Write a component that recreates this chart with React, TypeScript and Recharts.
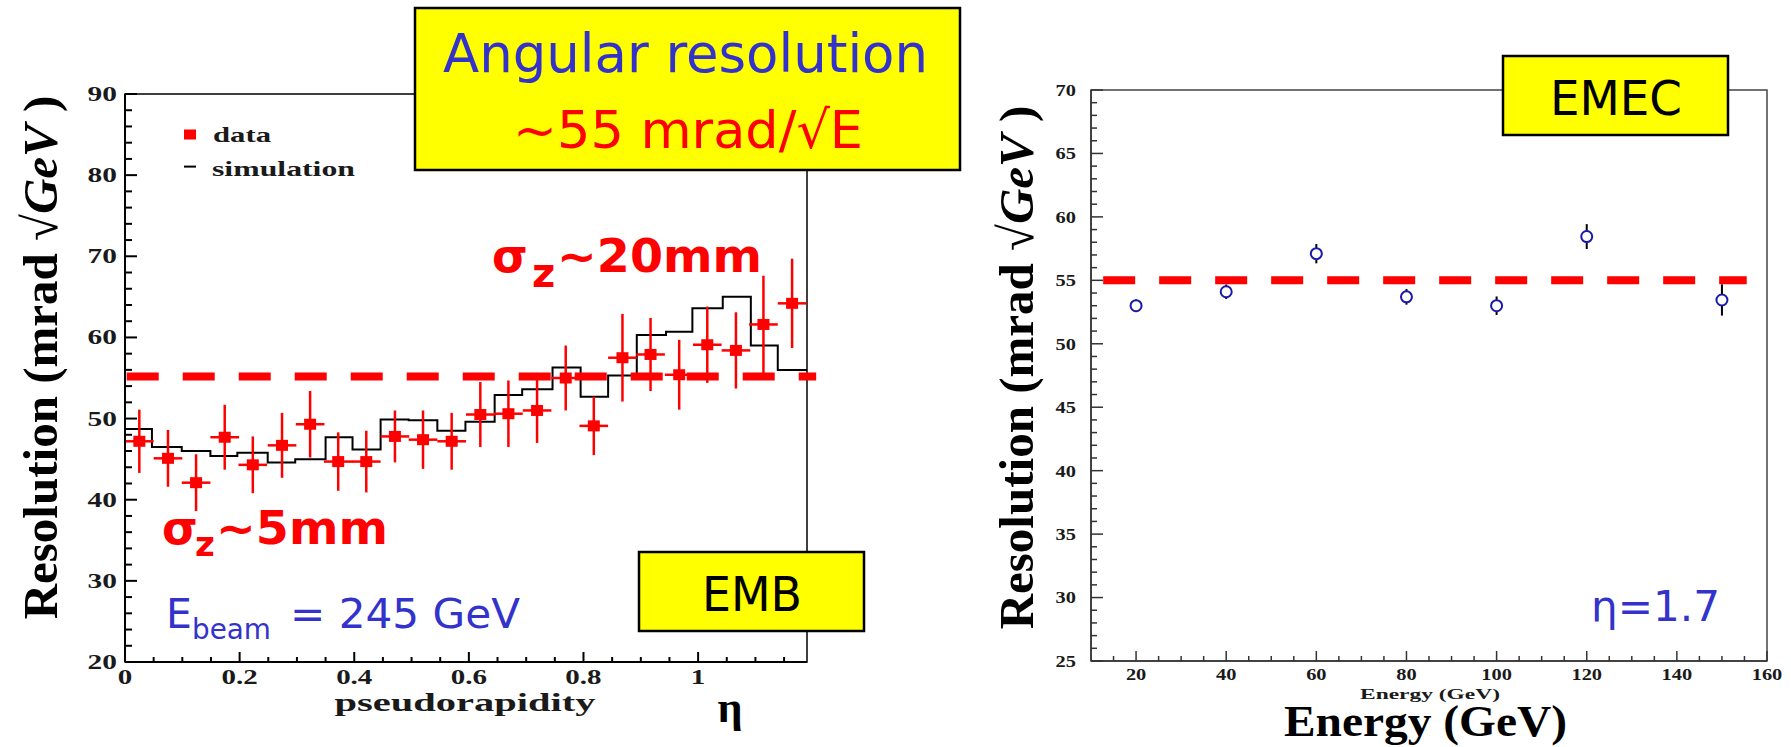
import React from 'react';
import {
  ComposedChart,
  Line,
  Scatter,
  XAxis,
  YAxis,
  ErrorBar,
  ReferenceLine,
  ReferenceArea,
} from 'recharts';

// EMB: angular resolution vs pseudorapidity (test beam data + simulation)
const embEta = [0.025, 0.075, 0.124, 0.174, 0.223, 0.274, 0.323, 0.372, 0.421, 0.471, 0.52, 0.57,
  0.62, 0.669, 0.719, 0.769, 0.818, 0.868, 0.917, 0.967, 1.016, 1.066, 1.114, 1.164];
const embRes = [47.2, 45.1, 42.1, 47.7, 44.3, 46.7, 49.3, 44.7, 44.7, 47.8, 47.4, 47.2,
  50.5, 50.6, 51.0, 55.0, 49.1, 57.5, 57.9, 55.4, 59.1, 58.4, 61.6, 64.2];
const embErr = [3.9, 3.5, 3.5, 4.0, 3.5, 4.0, 4.1, 3.6, 3.8, 3.2, 3.6, 3.5,
  4.0, 4.1, 4.0, 4.0, 3.6, 5.4, 4.5, 4.3, 4.7, 4.7, 6.0, 5.5];
const embBinHalf = 0.025;

// simulation histogram: bin low edges (+ last upper edge) and levels
const simEdges = [0, 0.047, 0.099, 0.149, 0.196, 0.249, 0.297, 0.35, 0.397, 0.446, 0.495, 0.545,
  0.594, 0.645, 0.693, 0.746, 0.795, 0.843, 0.893, 0.944, 0.99, 1.043, 1.092, 1.139, 1.19];
const simRes = [48.7, 46.5, 46.0, 45.4, 45.8, 44.6, 45.0, 47.7, 46.2, 49.9, 49.8, 48.5,
  49.6, 52.9, 53.6, 56.3, 52.7, 55.3, 60.3, 60.7, 63.6, 65.0, 59.0, 56.0];

const embXMajor = [0, 0.2, 0.4, 0.6, 0.8, 1];
const embYMajor = [20, 30, 40, 50, 60, 70, 80, 90];
const embLevel = 55.2;

// EMEC: resolution vs beam energy at eta = 1.7
const emecEnergy = [20, 40, 60, 80, 100, 120, 150];
const emecRes = [53.0, 54.1, 57.1, 53.7, 53.0, 58.45, 53.45];
const emecErr = [0.5, 0.57, 0.76, 0.62, 0.73, 0.98, 1.23];

const emecXMajor = [20, 40, 60, 80, 100, 120, 140, 160];
const emecYMajor = [25, 30, 35, 40, 45, 50, 55, 60, 65, 70];
const emecLevel = 55;

const range = (a: number, b: number, s: number) =>
  Array.from({ length: Math.round((b - a) / s) + 1 }, (_, i) => +(a + i * s).toFixed(4));

const SERIF = "'Liberation Serif', 'DejaVu Serif', serif";
const SANS = "'DejaVu Sans', Verdana, sans-serif";
const RED = '#ff0000';
const BLUE = '#3333cc';

type TickCfg = {
  side: 'left' | 'bottom';
  majors: number[];
  margin: number;
  majorLen: number;
  minorLen: number;
  fontSize: number;
  sx: number;
  stroke: string;
  sw: number;
  fmt?: (v: number) => string;
};

const makeTick = (c: TickCfg) => (props: any) => {
  const { x, y, payload } = props;
  const v = payload.value as number;
  const major = c.majors.some((m) => Math.abs(m - v) < 1e-6);
  const len = major ? c.majorLen : c.minorLen;
  const label = c.fmt ? c.fmt(v) : String(v);
  if (c.side === 'left') {
    const ax = x + c.margin;
    return (
      <g>
        <line x1={ax} x2={ax + len} y1={y} y2={y} stroke={c.stroke} strokeWidth={c.sw} />
        {major && (
          <text
            transform={`translate(${x},${y}) scale(${c.sx},1)`}
            textAnchor="end"
            dominantBaseline="central"
            fontFamily={SERIF}
            fontWeight="bold"
            fontSize={c.fontSize}
            fill="#1a1a1a"
          >
            {label}
          </text>
        )}
      </g>
    );
  }
  const ay = y - c.margin;
  return (
    <g>
      <line x1={x} x2={x} y1={ay} y2={ay - len} stroke={c.stroke} strokeWidth={c.sw} />
      {major && (
        <text
          transform={`translate(${x},${y + c.fontSize * 0.66}) scale(${c.sx},1)`}
          textAnchor="middle"
          fontFamily={SERIF}
          fontWeight="bold"
          fontSize={c.fontSize}
          fill="#1a1a1a"
        >
          {label}
        </text>
      )}
    </g>
  );
};

function EmbChart() {
  const points = embEta.map((x, i) => ({ x, y: embRes[i], ey: embErr[i], ex: embBinHalf }));
  const hist = simEdges.map((x, i) => ({ x, y: simRes[Math.min(i, simRes.length - 1)] }));
  const xTicks = range(0, 1.15, 0.05);
  const yTicks = range(20, 90, 2);
  return (
    <ComposedChart
      width={830}
      height={747}
      margin={{ top: 94, right: 23, bottom: 0, left: 0 }}
    >
      <XAxis
        type="number"
        dataKey="x"
        domain={[0, 1.19]}
        allowDataOverflow
        ticks={xTicks}
        interval={0}
        height={85}
        tickSize={0}
        tickMargin={9}
        tickLine={false}
        axisLine={{ stroke: '#000', strokeWidth: 2 }}
        tick={makeTick({
          side: 'bottom', majors: embXMajor, margin: 9, majorLen: 10, minorLen: 5,
          fontSize: 20, sx: 1.45, stroke: '#000', sw: 2,
          fmt: (v) => String(Number(v.toFixed(2))),
        })}
      />
      <YAxis
        type="number"
        dataKey="y"
        domain={[20, 90]}
        allowDataOverflow
        ticks={yTicks}
        interval={0}
        width={125}
        tickSize={0}
        tickMargin={8}
        tickLine={false}
        axisLine={{ stroke: '#000', strokeWidth: 2 }}
        tick={makeTick({
          side: 'left', majors: embYMajor, margin: 8, majorLen: 12, minorLen: 7,
          fontSize: 21, sx: 1.4, stroke: '#000', sw: 2,
        })}
      />
      <ReferenceArea x1={0} x2={1.19} y1={20} y2={90} fill="none" stroke="#000" strokeWidth={1.5} />
      <Line
        data={hist}
        dataKey="y"
        type="stepAfter"
        stroke="#000"
        strokeWidth={2}
        dot={false}
        isAnimationActive={false}
      />
      <ReferenceLine
        segment={[{ x: 0.003, y: embLevel }, { x: 1.206, y: embLevel }]}
        stroke={RED}
        strokeWidth={8}
        strokeDasharray="32 24"
        ifOverflow="visible"
      />
      <Scatter
        data={points}
        dataKey="y"
        isAnimationActive={false}
        shape={(p: any) => (
          <rect x={p.cx - 6} y={p.cy - 5.5} width={12} height={11} fill={RED} />
        )}
      >
        <ErrorBar dataKey="ey" direction="y" width={0} stroke={RED} strokeWidth={2.5} isAnimationActive={false} />
        <ErrorBar dataKey="ex" direction="x" width={0} stroke={RED} strokeWidth={2.5} isAnimationActive={false} />
      </Scatter>
    </ComposedChart>
  );
}

function EmecChart() {
  const points = emecEnergy.map((x, i) => ({ x, y: emecRes[i], ey: emecErr[i] }));
  const xTicks = range(15, 160, 5);
  const yTicks = range(25, 70, 1);
  return (
    <ComposedChart
      width={841}
      height={747}
      margin={{ top: 90, right: 24, bottom: 0, left: 0 }}
    >
      <XAxis
        type="number"
        dataKey="x"
        domain={[10, 160]}
        allowDataOverflow
        ticks={xTicks}
        interval={0}
        height={86}
        tickSize={0}
        tickMargin={8}
        tickLine={false}
        axisLine={{ stroke: '#333', strokeWidth: 1.5 }}
        tick={makeTick({
          side: 'bottom', majors: emecXMajor, margin: 8, majorLen: 10, minorLen: 5,
          fontSize: 17, sx: 1.2, stroke: '#333', sw: 1.5,
        })}
      />
      <YAxis
        type="number"
        dataKey="y"
        domain={[25, 70]}
        allowDataOverflow
        ticks={yTicks}
        interval={0}
        width={141}
        tickSize={0}
        tickMargin={15}
        tickLine={false}
        axisLine={{ stroke: '#333', strokeWidth: 1.5 }}
        tick={makeTick({
          side: 'left', majors: emecYMajor, margin: 15, majorLen: 12, minorLen: 6,
          fontSize: 17, sx: 1.2, stroke: '#333', sw: 1.5,
        })}
      />
      <ReferenceArea x1={10} x2={160} y1={25} y2={70} fill="none" stroke="#444" strokeWidth={1.5} />
      <ReferenceLine
        segment={[{ x: 12.7, y: emecLevel }, { x: 155.5, y: emecLevel }]}
        stroke={RED}
        strokeWidth={8}
        strokeDasharray="32 24"
        ifOverflow="visible"
      />
      <Scatter
        data={points}
        dataKey="y"
        isAnimationActive={false}
        shape={(p: any) => (
          <circle cx={p.cx} cy={p.cy} r={5.5} fill="#fff" stroke="#1a1aaa" strokeWidth={2} />
        )}
      >
        <ErrorBar dataKey="ey" direction="y" width={0} stroke="#000" strokeWidth={2} isAnimationActive={false} />
      </Scatter>
    </ComposedChart>
  );
}

function Annotations() {
  const box = { fill: '#ffff00', stroke: '#000', strokeWidth: 2.5 };
  return (
    <svg
      width={1791}
      height={747}
      style={{ position: 'absolute', left: 0, top: 0, pointerEvents: 'none' }}
    >
      {/* axis titles */}
      <text
        transform="translate(57,357.5) rotate(-90)"
        textAnchor="middle"
        fontFamily={SERIF}
        fontWeight="bold"
        fontSize={49}
      >
        Resolution (mrad √<tspan fontStyle="italic">GeV</tspan> )
      </text>
      <text
        transform="translate(1033,367.5) rotate(-90)"
        textAnchor="middle"
        fontFamily={SERIF}
        fontWeight="bold"
        fontSize={49}
      >
        Resolution (mrad √<tspan fontStyle="italic">GeV</tspan> )
      </text>
      <text x={465} y={711} textAnchor="middle" fontFamily={SERIF} fontWeight="bold" fontSize={26}
        textLength={261} lengthAdjust="spacingAndGlyphs" fill="#1a1a1a">
        pseudorapidity
      </text>
      <text x={730} y={722} textAnchor="middle" fontFamily={SERIF} fontWeight="bold" fontSize={44}>
        η
      </text>
      <text x={1430} y={699} textAnchor="middle" fontFamily={SERIF} fontWeight="bold" fontSize={14}
        textLength={140} lengthAdjust="spacingAndGlyphs" fill="#1a1a1a">
        Energy (GeV)
      </text>
      <text x={1425.5} y={736} textAnchor="middle" fontFamily={SERIF} fontWeight="bold" fontSize={44}
        textLength={283} lengthAdjust="spacingAndGlyphs">
        Energy (GeV)
      </text>

      {/* legend */}
      <rect x={184} y={129.5} width={12} height={10} fill={RED} />
      <text x={213} y={142} fontFamily={SERIF} fontWeight="bold" fontSize={22}
        textLength={58} lengthAdjust="spacingAndGlyphs" fill="#1a1a1a">
        data
      </text>
      <line x1={184} x2={196} y1={166.6} y2={166.6} stroke="#000" strokeWidth={2} />
      <text x={212} y={176} fontFamily={SERIF} fontWeight="bold" fontSize={22}
        textLength={143} lengthAdjust="spacingAndGlyphs" fill="#1a1a1a">
        simulation
      </text>

      {/* red beam-spread notes */}
      <g fontFamily={SANS} fontWeight="bold" fill={RED}>
        <text x={492} y={272} fontSize={46}>σ</text>
        <text x={532} y={287} fontSize={40}>z</text>
        <text x={557} y={272} fontSize={46} textLength={205} lengthAdjust="spacingAndGlyphs">~20mm</text>
        <text x={162} y={544} fontSize={46}>σ</text>
        <text x={195} y={556} fontSize={34}>z</text>
        <text x={216} y={544} fontSize={46} textLength={172} lengthAdjust="spacingAndGlyphs">~5mm</text>
      </g>

      {/* blue notes */}
      <g fontFamily={SANS} fill={BLUE}>
        <text x={166} y={628} fontSize={41}>E</text>
        <text x={192} y={639} fontSize={28} textLength={79} lengthAdjust="spacingAndGlyphs">beam</text>
        <text x={290} y={628} fontSize={40} textLength={230} lengthAdjust="spacingAndGlyphs">= 245 GeV</text>
        <text x={1591} y={621} fontSize={42} textLength={129} lengthAdjust="spacingAndGlyphs">η=1.7</text>
      </g>

      {/* yellow boxes */}
      <rect x={415} y={8} width={545} height={162} {...box} />
      <text x={443} y={72} fontFamily={SANS} fontSize={53} fill={BLUE}
        textLength={485} lengthAdjust="spacingAndGlyphs">
        Angular resolution
      </text>
      <text x={513} y={148} fontFamily={SANS} fontSize={52} fill={RED}
        textLength={350} lengthAdjust="spacingAndGlyphs">
        ~55 mrad/√E
      </text>

      <rect x={639} y={552} width={225} height={79} {...box} />
      <text x={702} y={611} fontFamily={SANS} fontSize={48} textLength={100} lengthAdjust="spacingAndGlyphs">
        EMB
      </text>

      <rect x={1503} y={56} width={225} height={79} {...box} />
      <text x={1550} y={115} fontFamily={SANS} fontSize={48} textLength={132} lengthAdjust="spacingAndGlyphs">
        EMEC
      </text>
    </svg>
  );
}

export default function App() {
  return (
    <div style={{ position: 'relative', width: 1791, height: 747, background: '#fff', overflow: 'hidden' }}>
      <style>{'body{margin:0;background:#fff}'}</style>
      <div style={{ position: 'absolute', left: 0, top: 0 }}>
        <EmbChart />
      </div>
      <div style={{ position: 'absolute', left: 950, top: 0 }}>
        <EmecChart />
      </div>
      <Annotations />
    </div>
  );
}
